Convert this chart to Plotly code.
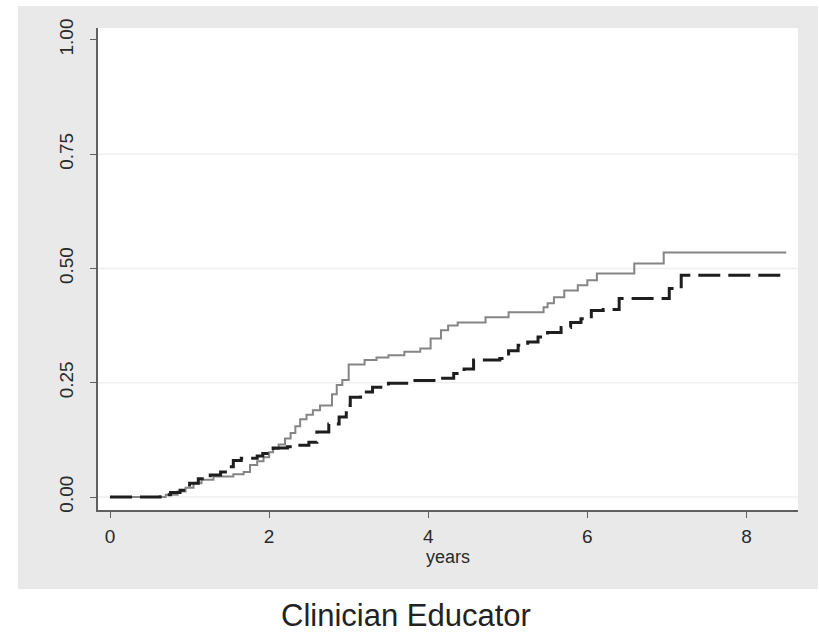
import plotly.graph_objects as go

# Solid (gray) step curve
solid_x = [0, 0.70, 0.85, 0.95, 1.05, 1.15, 1.30, 1.55, 1.68, 1.76, 1.85, 1.93, 2.00, 2.05, 2.12,
           2.20, 2.27, 2.33, 2.39, 2.47, 2.55, 2.64, 2.79, 2.85, 2.92, 3.00, 3.20, 3.35, 3.50,
           3.70, 3.90, 4.03, 4.16, 4.25, 4.37, 4.72, 5.01, 5.45, 5.50, 5.58, 5.71, 5.88, 6.00,
           6.12, 6.59, 6.96, 8.50]
solid_y = [0, 0.005, 0.012, 0.020, 0.030, 0.038, 0.045, 0.050, 0.055, 0.070, 0.078, 0.087, 0.098,
           0.105, 0.115, 0.128, 0.140, 0.155, 0.170, 0.180, 0.190, 0.200, 0.225, 0.245, 0.256,
           0.290, 0.300, 0.305, 0.310, 0.318, 0.325, 0.347, 0.365, 0.375, 0.382, 0.393, 0.404,
           0.415, 0.424, 0.437, 0.452, 0.463, 0.474, 0.489, 0.511, 0.535, 0.535]

# Dashed (black) step curve
dash_x = [0, 0.63, 0.76, 0.88, 1.00, 1.11, 1.26, 1.39, 1.49, 1.55, 1.65, 1.85, 1.92, 2.00, 2.05,
          2.23, 2.35, 2.50, 2.60, 2.75, 2.88, 2.97, 3.02, 3.15, 3.30, 3.50, 3.75, 4.12, 4.32,
          4.45, 4.57, 4.90, 5.01, 5.13, 5.25, 5.38, 5.50, 5.67, 5.79, 5.92, 6.05, 6.20, 6.40,
          7.03, 7.18, 8.50]
dash_y = [0, 0.005, 0.010, 0.015, 0.030, 0.040, 0.048, 0.055, 0.066, 0.080, 0.085, 0.090, 0.095,
          0.100, 0.107, 0.110, 0.113, 0.120, 0.142, 0.160, 0.175, 0.200, 0.218, 0.230, 0.240,
          0.249, 0.255, 0.260, 0.270, 0.280, 0.300, 0.303, 0.320, 0.332, 0.339, 0.350, 0.360,
          0.371, 0.382, 0.390, 0.408, 0.410, 0.434, 0.456, 0.485, 0.485]

x_ticks = [0, 2, 4, 6, 8]
y_ticks = [0, 0.25, 0.5, 0.75, 1.0]
y_tick_labels = ["0.00", "0.25", "0.50", "0.75", "1.00"]
grid_levels = [0, 0.25, 0.5, 0.75]

fig = go.Figure()
fig.add_trace(go.Scatter(x=solid_x, y=solid_y, mode="lines", line_shape="hv",
                         line=dict(color="#858585", width=2), showlegend=False))
fig.add_trace(go.Scatter(x=dash_x, y=dash_y, mode="lines", line_shape="hv",
                         line=dict(color="#1e1e1e", width=3, dash="22px,8px"), showlegend=False))

W, H = 819, 633
L, R, T, B = 98, 21, 28, 123
pw, ph = W - L - R, H - T - B

def px2paper_x(px):
    return (px - L) / pw

def px2paper_y(py):
    return (H - B - py) / ph

fig.add_shape(type="rect", xref="paper", yref="paper", layer="below",
              x0=px2paper_x(18), x1=px2paper_x(818), y0=px2paper_y(589), y1=px2paper_y(6),
              fillcolor="#e9e9e9", line=dict(width=0))
fig.add_shape(type="rect", xref="paper", yref="paper", layer="below",
              x0=0, x1=1, y0=0, y1=1, fillcolor="white", line=dict(width=0))
for g in grid_levels:
    fig.add_hline(y=g, layer="below", line=dict(color="#efefef", width=1.5))

fig.add_annotation(text="Clinician Educator", xref="paper", yref="paper",
                   x=px2paper_x(406), y=px2paper_y(615), showarrow=False,
                   xanchor="center", yanchor="middle",
                   font=dict(size=31, color="#222222", family="Liberation Sans, Arial"))

fig.update_layout(
    width=W, height=H,
    margin=dict(l=L, r=R, t=T, b=B),
    paper_bgcolor="white", plot_bgcolor="rgba(0,0,0,0)",
    font=dict(family="Liberation Sans, Arial", color="#333333", size=14),
    xaxis=dict(range=[-0.151, 8.648], tickvals=x_ticks, showgrid=False, zeroline=False,
               showline=True, linecolor="#606060", linewidth=1.5,
               ticks="outside", ticklen=6, tickcolor="#606060", ticklabelstandoff=2,
               tickfont=dict(size=19, color="#2a2a2a"),
               title=dict(text="years", font=dict(size=18, color="#2a2a2a"), standoff=0)),
    yaxis=dict(range=[-0.0284, 1.026], tickvals=y_ticks, ticktext=y_tick_labels,
               tickangle=-90, showgrid=False,
               zeroline=False, showline=True, linecolor="#606060", linewidth=1.5,
               ticks="outside", ticklen=6, tickcolor="#606060", ticklabelstandoff=10,
               tickfont=dict(size=19, color="#2a2a2a")),
)

fig.write_html("out.html", config={"displayModeBar": False},
               post_script="document.body.style.margin='0';document.body.style.overflow='hidden';")
